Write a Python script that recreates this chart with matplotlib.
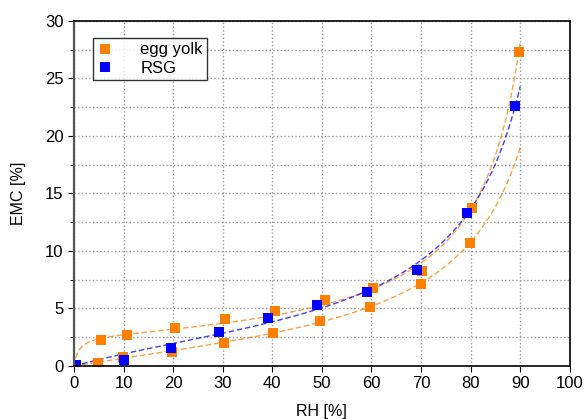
import numpy as np
import matplotlib.pyplot as plt

plt.rcParams['font.family'] = ['Liberation Sans', 'DejaVu Sans']

# egg yolk, upper branch
egg_up_rh = [5.4, 10.6, 20.4, 30.4, 40.5, 50.6, 60.3, 70.1, 80.2, 89.7]
egg_up_emc = [2.26, 2.7, 3.3, 4.06, 4.8, 5.74, 6.78, 8.29, 13.7, 27.3]
# egg yolk, lower branch
egg_lo_rh = [4.8, 9.9, 19.7, 30.2, 40.1, 49.7, 59.8, 70.0, 79.8]
egg_lo_emc = [0.29, 0.8, 1.22, 2.03, 2.84, 3.94, 5.16, 7.16, 10.7]
# RSG
rsg_rh = [0.5, 10.1, 19.5, 29.2, 39.2, 49.1, 59.0, 69.1, 79.2, 89.0]
rsg_emc = [0.1, 0.52, 1.6, 2.99, 4.2, 5.3, 6.46, 8.38, 13.3, 22.6]

orange = '#ff8000'
blue = '#0000ff'


def gab(a, p):
    mm, c, k = np.exp(p[0]), np.exp(p[1]), p[2]
    return mm * c * k * a / ((1 - k * a) * (1 - k * a + c * k * a))


def gab_fit(rh, emc):
    # plain Levenberg-Marquardt on the GAB isotherm, numeric jacobian
    a = np.array(rh) / 100.0
    m = np.array(emc)
    best = None
    for c0 in [0.5, 2.0, 10.0, 50.0]:
        p = np.array([np.log(3.0), np.log(c0), 0.9])
        lam = 1e-2
        for _ in range(400):
            r = m - gab(a, p)
            J = np.zeros((len(a), 3))
            for i in range(3):
                dp = np.zeros(3)
                dp[i] = 1e-6
                J[:, i] = (gab(a, p + dp) - gab(a, p - dp)) / 2e-6
            A = J.T @ J
            step = np.linalg.solve(A + lam * np.diag(np.diag(A) + 1e-9), J.T @ r)
            pn = p + step
            pn[2] = min(pn[2], 1.0 / 0.905)
            rn = m - gab(a, pn)
            if np.all(np.isfinite(rn)) and (rn ** 2).sum() < (r ** 2).sum():
                p, lam = pn, lam * 0.5
            else:
                lam *= 4
        sse = ((m - gab(a, p)) ** 2).sum()
        if np.isfinite(sse) and (best is None or sse < best[0]):
            best = (sse, p)
    xs = np.linspace(0.0, 0.9, 400)
    return xs * 100, gab(xs, best[1])


fig = plt.figure(figsize=(5.85, 4.19), dpi=100)
ax = fig.add_axes([0.1265, 0.1265, 0.8475, 0.8235])

for rh, emc, col in [(egg_up_rh, egg_up_emc, orange),
                     (egg_lo_rh, egg_lo_emc, orange),
                     (rsg_rh, rsg_emc, blue)]:
    fx, fy = gab_fit(rh, emc)
    ax.plot(fx, fy, color=col, lw=1.0, ls=(0, (4, 2)), alpha=0.75)

ax.plot(egg_up_rh + egg_lo_rh, egg_up_emc + egg_lo_emc, 's', color=orange,
        ms=7, mew=0, label='egg yolk')
ax.plot(rsg_rh, rsg_emc, 's', color=blue, ms=7, mew=0, label='RSG')
# orange points drawn on top where they overlap in the reference
ax.plot([60.3, 70.1, 80.2], [6.78, 8.29, 13.7], 's', color=orange, ms=7, mew=0)
ax.plot([59.0, 69.1, 79.2], [6.46, 8.38, 13.3], 's', color=blue, ms=7, mew=0)

ax.set_xlim(0, 100)
ax.set_ylim(0, 30)
ax.set_xticks(range(0, 101, 10))
ax.set_yticks(range(0, 31, 5))
ax.set_yticks(np.arange(2.5, 30, 5), minor=True)
ax.grid(True, which='both', axis='y', color='#999999', ls=':', lw=1)
ax.grid(True, which='major', axis='x', color='#999999', ls=':', lw=1)
ax.set_axisbelow(True)
ax.tick_params(labelsize=12, direction='out', length=4, colors='black')
ax.tick_params(which='minor', length=3)
ax.tick_params(axis='x', which='minor', bottom=False)
ax.spines['left'].set_color('#555555')
ax.spines['left'].set_linewidth(1.6)
for s in ['bottom', 'top', 'right']:
    ax.spines[s].set_linewidth(1.2)
ax.set_xlabel('RH [%]', fontsize=11.5, labelpad=9)
ax.set_ylabel('EMC [%]', fontsize=11.5, labelpad=14)

leg = ax.legend(loc='upper left', bbox_to_anchor=(0.038, 0.95), fontsize=12,
                frameon=True, fancybox=False, edgecolor='black',
                handlelength=1.0, handletextpad=1.6, borderpad=0.25,
                labelspacing=0.2, borderaxespad=0)
leg.get_frame().set_linewidth(1.0)

fig.savefig('out.png', dpi=100)
